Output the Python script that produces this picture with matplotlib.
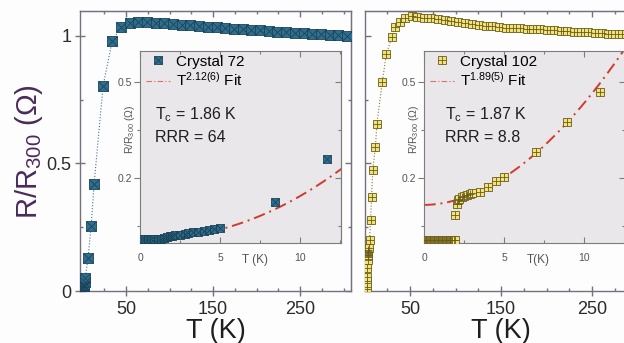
import matplotlib
matplotlib.use('Agg')
import numpy as np
import matplotlib.pyplot as plt
from matplotlib.lines import Line2D

plt.rcParams['font.family'] = ['Liberation Sans', 'DejaVu Sans']
plt.rcParams['mathtext.fontset'] = 'custom'
plt.rcParams['mathtext.rm'] = 'Liberation Sans'
plt.rcParams['mathtext.it'] = 'Liberation Sans:italic'

# Crystal 72, R/R300 vs T over the full range
t72 = [0.3, 0.6, 1.0, 1.5, 2.0, 2.5, 3.0, 6.3, 9.8, 13.2, 23.6, 34, 44, 54, 64, 74, 84,
       94, 104, 114, 124, 134, 144, 154, 164, 174, 184, 194, 204, 214, 224, 234, 244,
       254, 264, 274, 284, 294, 304]
r72 = [0.0, 0.008, 0.015, 0.02, 0.025, 0.035, 0.05, 0.13, 0.255, 0.42, 0.805, 0.98, 1.035,
       1.05, 1.055, 1.055, 1.052, 1.05, 1.047, 1.045, 1.042, 1.04, 1.037, 1.034, 1.032,
       1.029, 1.027, 1.024, 1.022, 1.019, 1.017, 1.015, 1.013, 1.011, 1.009, 1.007,
       1.005, 1.003, 1.001]

# Crystal 72, low temperature detail
t72_low = [0.1, 0.3, 0.5, 0.7, 0.9, 1.1, 1.3, 1.5, 1.7, 1.85, 2.0, 2.2, 2.5, 2.8, 3.0,
           3.3, 3.6, 4.0, 4.3, 4.6, 5.0, 8.4, 11.7]
r72_low = [0.008, 0.008, 0.008, 0.008, 0.009, 0.009, 0.01, 0.012, 0.015, 0.018, 0.02,
           0.021, 0.022, 0.025, 0.028, 0.03, 0.032, 0.035, 0.038, 0.041, 0.045, 0.124, 0.26]

# Crystal 102, R/R300 vs T over the full range
t102 = [2.5, 3.0, 3.0, 3.2, 3.3, 3.4, 3.5, 3.6, 3.8, 4.0, 4.5, 5.5, 6.6, 7.7, 9.0, 12.0,
        13.5, 19.5, 24, 30, 33, 38.5, 44, 51.6, 58, 65.5, 73, 80.5, 88, 95.5, 103, 110.5,
        118, 125.5, 133, 140.5, 148, 155.5, 163, 170.5, 178, 185.5, 193, 200.5, 208,
        215.5, 223, 230.5, 238, 245.5, 253, 260.5, 268, 275.5, 283, 290.5]
r102 = [0.008, 0.03, 0.055, 0.09, 0.12, 0.14, 0.148, 0.152, 0.155, 0.16, 0.17, 0.2, 0.28,
        0.37, 0.475, 0.565, 0.655, 0.82, 0.93, 0.995, 1.035, 1.055, 1.07, 1.078, 1.075,
        1.072, 1.069, 1.065, 1.061, 1.057, 1.053, 1.05, 1.047, 1.044, 1.041, 1.038, 1.035,
        1.033, 1.031, 1.03, 1.029, 1.028, 1.026, 1.024, 1.022, 1.02, 1.018, 1.016, 1.015,
        1.014, 1.012, 1.011, 1.009, 1.008, 1.007, 1.006]

# Crystal 102, low temperature detail
t102_low = [0.05, 0.15, 0.25, 0.35, 0.45, 0.55, 0.65, 0.75, 0.85, 0.95, 1.05, 1.15, 1.25,
            1.35, 1.45, 1.55, 1.65, 1.75, 1.85, 1.95, 1.93, 2.05, 2.1, 2.2, 2.35, 2.5, 2.7,
            2.9, 3.0, 3.5, 4.0, 4.5, 5.0, 7.0, 8.95, 11.0]
r102_low = [0.006, 0.006, 0.006, 0.006, 0.006, 0.006, 0.006, 0.006, 0.006, 0.006, 0.006,
            0.006, 0.006, 0.006, 0.006, 0.006, 0.006, 0.006, 0.006, 0.005, 0.084, 0.12,
            0.13, 0.135, 0.14, 0.143, 0.147, 0.15, 0.152, 0.157, 0.173, 0.19, 0.204, 0.28,
            0.376, 0.47]

# power-law fits R = R0 + A*T^n
fit72 = dict(r0=0.008, a=0.00103, n=2.12)
fit102 = dict(r0=0.116, a=0.0041, n=1.89)

spine_c = '#76707e'
in_spine_c = '#7c7c7c'
blue_face, blue_edge = '#2f6e8d', '#1b4459'
yel_face, yel_edge = '#f1e27a', '#6a5b1c'
fit_c = '#d23a2c'

W, H = 624, 343
fig = plt.figure(figsize=(W / 100, H / 100), dpi=100)
fig.patch.set_facecolor('#fdfdfd')

axL = fig.add_axes([80 / W, 52 / H, 271 / W, 280 / H])
axR = fig.add_axes([365 / W, 52 / H, 273 / W, 280 / H])
inL = fig.add_axes([140 / W, 100 / H, 201 / W, 192 / H])
inR = fig.add_axes([424 / W, 100 / H, 201 / W, 192 / H])


def marks(ax, t, r, face, edge, cross, ms, line=None):
    if line:
        ax.plot(t, r, ls=':', lw=0.8, color=line, zorder=2)
    ax.plot(t, r, 's', ms=ms, mfc=face, mec=edge, mew=0.6, ls='none', zorder=3)
    ax.plot(t, r, cross, ms=ms, mec=edge, mew=0.6, ls='none', zorder=3)


def main_axes(ax, xlim, ylabels):
    ax.set_xlim(xlim)
    ax.set_ylim(0, 1.098)
    ax.set_facecolor('#fdfdfd')
    for s in ax.spines.values():
        s.set_color(spine_c)
        s.set_linewidth(1.0)
    xmaj = [50, 150, 250]
    xmin = [25, 75, 100, 125, 175, 200, 225, 275, 300]
    ax.set_xticks(xmaj)
    ax.set_xticks(xmin, minor=True)
    ax.set_yticks([0, 0.5, 1])
    ax.set_yticks([0.25, 0.75], minor=True)
    ax.set_yticklabels(['0', '0.5', '1'])
    ax.tick_params(axis='x', which='major', direction='inout', length=7, width=1,
                   color=spine_c, labelsize=13, labelcolor='#2b2b2b')
    ax.tick_params(axis='x', which='minor', direction='in', length=2.5, width=1, color=spine_c)
    ax.tick_params(axis='y', which='major', direction='inout' if ylabels else 'in',
                   length=7 if ylabels else 4, width=1, color=spine_c, labelsize=13,
                   labelcolor='#2b2b2b', pad=2.5, labelleft=ylabels)
    ax.tick_params(axis='y', which='minor', direction='in', length=2.5, width=1, color=spine_c)
    top = ax.secondary_xaxis('top')
    top.set_xticks(xmaj)
    top.set_xticks(xmin, minor=True)
    top.tick_params(which='major', direction='in', length=4, width=1, color=spine_c,
                    labeltop=False)
    top.tick_params(which='minor', direction='in', length=2.5, width=1, color=spine_c)
    top.spines['top'].set_color(spine_c)
    right = ax.secondary_yaxis('right')
    right.set_yticks([0, 0.5, 1])
    right.set_yticks([0.25, 0.75], minor=True)
    right.tick_params(which='major', direction='in', length=4, width=1, color=spine_c,
                      labelright=False)
    right.tick_params(which='minor', direction='in', length=2.5, width=1, color=spine_c)
    right.spines['right'].set_color(spine_c)


def inset_axes(ax, xlabel, xlab_x):
    ax.set_xlim(0, 12.55)
    ax.set_ylim(-0.003, 0.597)
    ax.set_facecolor('#e9e7e9')
    for s in ax.spines.values():
        s.set_color(in_spine_c)
        s.set_linewidth(0.8)
    ax.set_xticks([0, 5, 10])
    ax.set_xticks([2.5, 7.5, 12.5], minor=True)
    ax.set_yticks([0.2, 0.5])
    ax.set_yticks([0.05, 0.35], minor=True)
    ax.tick_params(axis='x', which='both', direction='in', top=True, color=in_spine_c,
                   width=0.8, labelsize=7.5, labelcolor='#555555', pad=7)
    ax.tick_params(axis='x', which='major', length=4)
    ax.tick_params(axis='x', which='minor', length=2.5)
    ax.tick_params(axis='y', which='both', direction='out', color=in_spine_c, width=0.8,
                   labelsize=7.5, labelcolor='#555555', pad=1.5)
    ax.tick_params(axis='y', which='major', length=4)
    ax.tick_params(axis='y', which='minor', length=2.5)
    rt = ax.secondary_yaxis('right')
    rt.set_yticks([0.2, 0.5])
    rt.set_yticks([0.05, 0.35], minor=True)
    rt.tick_params(which='both', direction='in', color=in_spine_c, width=0.8, labelright=False)
    rt.tick_params(which='major', length=4)
    rt.tick_params(which='minor', length=2.5)
    rt.spines['right'].set_color(in_spine_c)
    ax.set_xlabel(xlabel, fontsize=8.5, color='#555555')
    ax.xaxis.set_label_coords(xlab_x, -0.055)
    ax.text(-0.05, 0.59, 'R/R$_{300}$ (Ω)', transform=ax.transAxes, rotation=90,
            ha='center', va='center', fontsize=7.5, color='#555555')


def fit_curve(ax, p):
    tt = np.linspace(0, 13, 300)
    return ax.plot(tt, p['r0'] + p['a'] * tt ** p['n'], ls=(0, (6, 2.5, 1, 2.5)),
                   lw=1.4, color=fit_c, zorder=2)[0]


# left panel: crystal 72
main_axes(axL, (-3, 308.6), True)
marks(axL, t72, r72, blue_face, blue_edge, 'x', 6.5, line='#3b7595')

inset_axes(inL, 'T (K)', 0.572)
fit_curve(inL, fit72)
marks(inL, t72_low, r72_low, blue_face, blue_edge, 'x', 6)

# right panel: crystal 102
main_axes(axR, (0.5, 300.5), False)
marks(axR, t102, r102, yel_face, yel_edge, '+', 5.3, line='#8a7a30')

inset_axes(inR, 'T(K)', 0.567)
fit_curve(inR, fit102)
marks(inR, t102_low, r102_low, yel_face, yel_edge, '+', 6.1)

for ax, face, edge, cross, name, expo, tc, rrr, tx in [
        (inL, blue_face, blue_edge, 'x', 'Crystal 72', '2.12(6)', '1.86', '64', 0.075),
        (inR, yel_face, yel_edge, '+', 'Crystal 102', '1.89(5)', '1.87', '8.8', 0.104)]:
    sq = Line2D([], [], marker='s', ms=6, mfc=face, mec=edge, mew=0.6, ls='none')
    cr = Line2D([], [], marker=cross, ms=6, mec=edge, mew=0.6, ls='none')
    fl = Line2D([], [], ls=(0, (5, 2, 1, 2)), lw=0.8, color='#e07060')
    ax.legend([(sq, cr), fl], [name, 'T$^{%s}$ Fit' % expo], loc='upper left',
              bbox_to_anchor=(0.03, 0.98), frameon=False, fontsize=11, handlelength=1.6,
              handletextpad=0.35, labelspacing=0.15, borderaxespad=0, borderpad=0)
    ax.text(tx, 0.667, 'T$_\\mathregular{c}$ = %s K' % tc, transform=ax.transAxes,
            fontsize=11.5, va='center', color='#1e1e1e')
    ax.text(tx, 0.552, 'RRR = %s' % rrr, transform=ax.transAxes, fontsize=11.5,
            va='center', color='#1e1e1e')

fig.text(29 / W, 1 - 152 / H, 'R/R$_{300}$ (Ω)', rotation=90, ha='center', va='center',
         fontsize=21, color='#4a2a5c')
fig.text(216 / W, 5.5 / H, 'T (K)', ha='center', va='baseline', fontsize=19.5, color='#1e1e1e')
fig.text(501 / W, 5.5 / H, 'T (K)', ha='center', va='baseline', fontsize=19.5, color='#1e1e1e')

fig.savefig('out.png', dpi=100, facecolor=fig.get_facecolor())
